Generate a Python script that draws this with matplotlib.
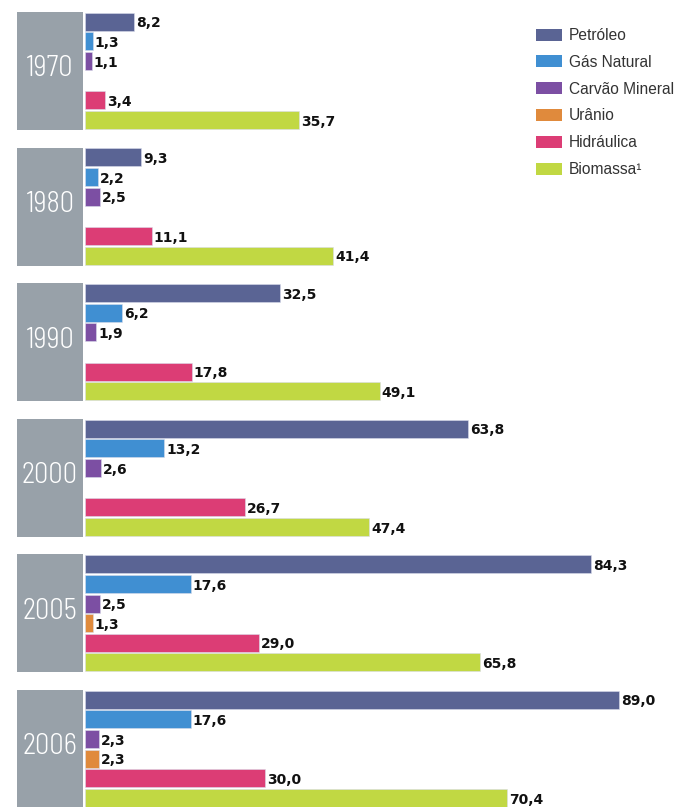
import matplotlib
matplotlib.use("Agg")
import matplotlib.pyplot as plt
import matplotlib.transforms as mtransforms
from matplotlib.patches import Rectangle, Patch

YEARS = ["1970", "1980", "1990", "2000", "2005", "2006"]
SOURCES = ["Petróleo", "Gás Natural", "Carvão Mineral", "Urânio", "Hidráulica", "Biomassa¹"]
petroleo = [8.2, 9.3, 32.5, 63.8, 84.3, 89.0]
gas_natural = [1.3, 2.2, 6.2, 13.2, 17.6, 17.6]
carvao = [1.1, 2.5, 1.9, 2.6, 2.5, 2.3]
uranio = [0, 0, 0, 0, 1.3, 2.3]
hidraulica = [3.4, 11.1, 17.8, 26.7, 29.0, 30.0]
biomassa = [35.7, 41.4, 49.1, 47.4, 65.8, 70.4]
COLORS = ["#5a6494", "#408fd2", "#7c4fa3", "#e08a3c", "#dc3d75", "#c1d843"]

series = [petroleo, gas_natural, carvao, uranio, hidraulica, biomassa]

plt.rcParams['font.family'] = ['Liberation Sans', 'DejaVu Sans']
YEAR_FONT = ['Barlow Semi Condensed', 'DejaVu Sans']

W, H = 684, 807
fig = plt.figure(figsize=(W / 100, H / 100), dpi=100)
ax = fig.add_axes([0, 0, 1, 1])

px_per_unit = 6.0
x0 = 85  # pixel where the bars start
ax.set_xlim(-x0 / px_per_unit, (W - x0) / px_per_unit)

slot_px = 19.65
group_step = 135.6 / slot_px
top_px = 12
ymin = -0.5 - top_px / slot_px
ax.set_ylim(ymin + H / slot_px, ymin)
ax.axis("off")

bar_h = 18 / slot_px
box_tr = mtransforms.blended_transform_factory(ax.transAxes, ax.transData)

for g, year in enumerate(YEARS):
    base = g * group_step
    # grey year box
    ax.add_patch(Rectangle((17 / W, base - 0.5), 66 / W, 6, transform=box_tr,
                           facecolor="#98a1a9", edgecolor="none"))
    ax.text(50 / W, base + 2.4, year, transform=box_tr, ha="center", va="center",
            color="white", fontsize=20.5, family=YEAR_FONT, fontweight=300,
            fontstretch="semi-condensed")
    for j, vals in enumerate(series):
        v = vals[g]
        if v == 0:
            continue
        ax.barh(base + j, v, height=bar_h, left=0, color=COLORS[j],
                edgecolor="#d8dcea", linewidth=0.4)
        ax.annotate(f"{v:.1f}".replace(".", ","), (v, base + j),
                    xytext=(1.5, -1.2), textcoords="offset points",
                    ha="left", va="center", fontsize=10, fontweight="bold",
                    family=["DejaVu Sans"], color="#111111")

handles = [Patch(facecolor=c, edgecolor="none") for c in COLORS]
leg = ax.legend(handles, SOURCES, loc="upper left",
                bbox_to_anchor=(536 / W, 1 - 28 / H), frameon=False,
                fontsize=11.2, handlelength=1.7, handleheight=0.8,
                labelspacing=0.76, handletextpad=0.4, borderpad=0,
                borderaxespad=0)
for t in leg.get_texts():
    t.set_color("#333333")

fig.savefig("out.png", dpi=100)
